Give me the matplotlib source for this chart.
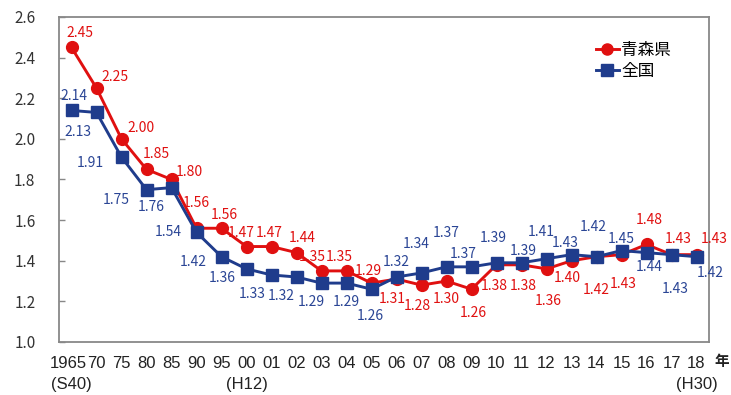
import matplotlib
matplotlib.use("Agg")
import matplotlib.pyplot as plt
import matplotlib.transforms as mtransforms
from matplotlib.lines import Line2D

# Total fertility rate: Aomori prefecture vs. national
years = ["1965", "70", "75", "80", "85", "90", "95", "00", "01", "02", "03", "04", "05",
         "06", "07", "08", "09", "10", "11", "12", "13", "14", "15", "16", "17", "18"]
era_notes = {0: "(S40)", 7: "(H12)", 25: "(H30)"}

aomori = [2.45, 2.25, 2.00, 1.85, 1.80, 1.56, 1.56, 1.47, 1.47, 1.44, 1.35, 1.35, 1.29,
          1.31, 1.28, 1.30, 1.26, 1.38, 1.38, 1.36, 1.40, 1.42, 1.43, 1.48, 1.43, 1.43]
national = [2.14, 2.13, 1.91, 1.75, 1.76, 1.54, 1.42, 1.36, 1.33, 1.32, 1.29, 1.29, 1.26,
            1.32, 1.34, 1.37, 1.37, 1.39, 1.39, 1.41, 1.43, 1.42, 1.45, 1.44, 1.43, 1.42]

y_ticks = [1.0, 1.2, 1.4, 1.6, 1.8, 2.0, 2.2, 2.4, 2.6]

# value-label offsets in pixels (dx, dy) relative to each marker
aomori_off = [(8, 14), (19, 11), (20, 11), (10, 15), (18, 7), (0, 25), (3, 13), (-5, 14),
              (-2, 14), (6, 15), (-9, 14), (-7, 14), (-3, 12), (-4, -20), (-4, -21),
              (0, -18), (2, -24), (-2, -21), (2, -21), (2, -32), (-4, -17), (0, -33),
              (2, -29), (3, 24), (7, 16), (18, 16)]
national_off = [(2, 14), (-19, -20), (-31, -6), (-30, -10), (-20, -19), (-28, 0), (-28, -5),
                (-24, -9), (-19, -19), (-15, -19), (-10, -19), (0, -19), (-1, -27), (0, 15),
                (-5, 29), (0, 34), (-8, 13), (-3, 25), (2, 12), (-5, 27), (-6, 12), (-3, 30),
                (0, 12), (3, -14), (4, -34), (14, -16)]

RED = "#E01010"
BLUE = "#1F3C8C"
LABEL_BLUE = "#2A4595"
JP = ["Noto Sans CJK JP", "DejaVu Sans"]
NARROW = ["Liberation Sans Narrow", "Liberation Sans", "DejaVu Sans"]

fig = plt.figure(figsize=(7.31, 3.95), dpi=100)
ax = fig.add_axes([59 / 731, 1 - 342 / 395, 650 / 731, 325 / 395])

x = list(range(len(years)))
ax.plot(x, aomori, color=RED, lw=2.1, marker="o", ms=8.5, mec=RED, mfc=RED, zorder=3)
ax.plot(x, national, color=BLUE, lw=2.1, marker="s", ms=8.5, mec=BLUE, mfc=BLUE, zorder=4)

for i, v in enumerate(aomori):
    dx, dy = aomori_off[i]
    ax.annotate(f"{v:.2f}", (i, v), xytext=(dx, dy), textcoords="offset pixels",
                ha="center", va="center", color=RED, fontsize=10, family=JP,
                annotation_clip=False, zorder=5)
for i, v in enumerate(national):
    dx, dy = national_off[i]
    ax.annotate(f"{v:.2f}", (i, v), xytext=(dx, dy), textcoords="offset pixels",
                ha="center", va="center", color=LABEL_BLUE, fontsize=10, family=JP,
                annotation_clip=False, zorder=5)

ax.set_xlim(-0.5, len(years) - 0.5)
ax.set_ylim(1.0, 2.6)
ax.set_yticks(y_ticks)
ax.set_yticklabels([f"{t:.1f}" for t in y_ticks], family=JP, fontsize=11, color="#333333")
ax.tick_params(axis="y", direction="in", length=4, width=1, color="#888888", pad=17)

ax.set_xticks(x)
ax.set_xticklabels(years, family=NARROW, fontsize=12, color="#222222")
ax.tick_params(axis="x", length=0, pad=10)
# nudge the long first year label a little left so it does not run into "70"
first = ax.get_xticklabels()[0]
first.set_transform(first.get_transform()
                    + mtransforms.ScaledTranslation(-3 / 100, 0, fig.dpi_scale_trans))

# era names under selected years
for i, note in era_notes.items():
    ax.annotate(note, xy=(i, 0), xycoords=("data", "axes fraction"), xytext=(0, -43),
                textcoords="offset pixels", ha="center", va="center", family=NARROW,
                fontsize=12, color="#222222", annotation_clip=False)

for s in ax.spines.values():
    s.set_color("#888888")
    s.set_linewidth(1.3)

fig.text(722 / 731, 1 - 361 / 395, "年", family=JP, fontweight="bold", fontsize=10.5,
         ha="center", va="center", color="#222222")

handles = [Line2D([0], [0], color=RED, lw=2.1, marker="o", ms=8),
           Line2D([0], [0], color=BLUE, lw=2.1, marker="s", ms=8)]
fig.legend(handles, ["青森県", "全国"], loc="upper left",
           bbox_to_anchor=(596 / 731, 1 - 42 / 395), frameon=False, prop={"family": JP, "size": 12},
           handlelength=1.35, handletextpad=0.15, labelspacing=0.25, borderpad=0, borderaxespad=0)

fig.savefig("out.png", dpi=100)
